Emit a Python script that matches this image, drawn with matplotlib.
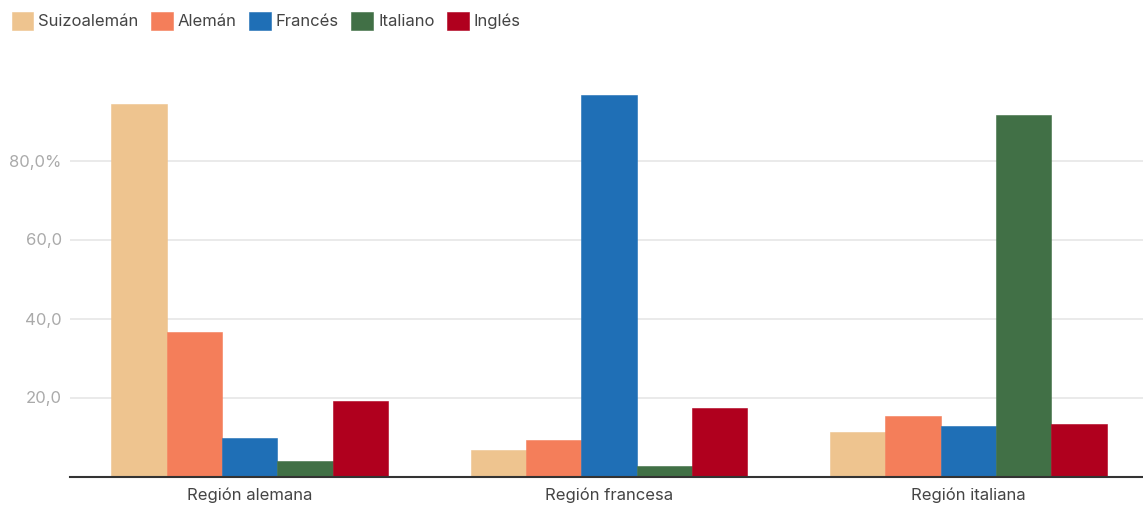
import numpy as np
import matplotlib.pyplot as plt
from matplotlib.ticker import FixedLocator, FixedFormatter

plt.rcParams['font.family'] = ['Inter', 'DejaVu Sans']

# === Data ===
regions = ["Región alemana", "Región francesa", "Región italiana"]
languages = ["Suizoalemán", "Alemán", "Francés", "Italiano", "Inglés"]
suizoaleman = [94.3, 6.7, 11.3]
aleman = [36.7, 9.2, 15.2]
frances = [9.8, 96.6, 12.8]
italiano = [3.9, 2.7, 91.4]
ingles = [19.0, 17.3, 13.2]
series = [suizoaleman, aleman, frances, italiano, ingles]
colors = ["#EEC48F", "#F47E5A", "#1F6FB6", "#417046", "#B0001E"]

y_ticks = [20, 40, 60, 80]
y_labels = ["20,0", "40,0", "60,0", "80,0%"]

# === Figure ===
fig = plt.figure(figsize=(11.43, 5.08), dpi=100)
ax = fig.add_axes([70 / 1143, 31.5 / 508, 1078 / 1143, 395 / 508])

x = np.arange(len(regions))
bar_w = 0.154
for i, (vals, col, name) in enumerate(zip(series, colors, languages)):
    ax.bar(x + (i - 2) * bar_w, vals, width=bar_w, color=col, label=name,
           edgecolor=col, linewidth=0.4, zorder=3)

ax.set_xlim(-0.5, 2.5)
ax.set_ylim(0, 100)
ax.yaxis.set_major_locator(FixedLocator(y_ticks))
ax.yaxis.set_major_formatter(FixedFormatter(y_labels))
ax.grid(axis="y", color="#e6e6e6", linewidth=1.2, zorder=0)
ax.set_xticks(x)
ax.set_xticklabels(regions, fontsize=12, color="#444444")
ax.tick_params(axis="x", length=0, pad=8)
ax.tick_params(axis="y", length=0, pad=6, labelsize=12, labelcolor="#aaaaaa")

for s in ["top", "right", "left"]:
    ax.spines[s].set_visible(False)
ax.spines["bottom"].set_color("#333333")
ax.spines["bottom"].set_linewidth(1.5)
ax.spines["bottom"].set_zorder(4)

# === Legend ===
fig.legend(loc="upper left", bbox_to_anchor=(0.0, 1.0), ncol=5, frameon=False,
           fontsize=12, handlelength=1.3, handleheight=1.3, handletextpad=0.3,
           columnspacing=0.75, labelcolor="#444444", borderaxespad=0.3)

fig.savefig("out.png", dpi=100, facecolor="white")
